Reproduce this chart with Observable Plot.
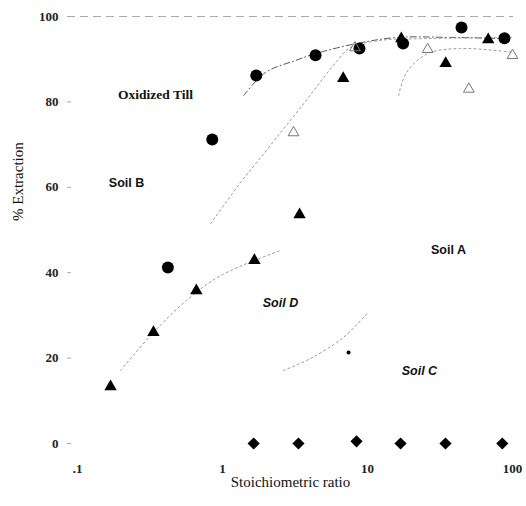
<!DOCTYPE html>
<html><head><meta charset="utf-8">
<script src="https://cdn.jsdelivr.net/npm/d3@7"></script>
<script src="https://cdn.jsdelivr.net/npm/@observablehq/plot@0.6"></script>
<style>body{margin:0;background:#fff}</style>
</head><body><div id="chart"></div>
<script>
// Axis ticks
const xTicks = [0.1, 1, 10, 100];
const xTickLabels = [".1", "1", "10", "100"];
const yTicks = [0, 20, 40, 60, 80, 100];

// Filled circles
const circleX = [0.42, 0.85, 1.71, 4.38, 8.8, 17.6, 44.5, 88];
const circleY = [41.2, 71.2, 86.2, 90.9, 92.5, 93.7, 97.4, 94.9];

// Filled triangles
const triX = [0.169, 0.334, 0.66, 1.66, 3.4, 6.8, 17.1, 34.6, 68];
const triY = [13.3, 26.0, 35.8, 42.9, 53.6, 85.5, 94.8, 89.0, 94.6];

// Open triangles
const openTriX = [3.09, 8.2, 26, 50, 100];
const openTriY = [72.8, 92.7, 92.3, 83.0, 90.9];

// Diamonds
const diamondX = [1.64, 3.34, 8.4, 16.9, 34.5, 85];
const diamondY = [0, 0, 0.5, 0, 0, 0];

// Small point (Soil C)
const smallX = [7.4];
const smallY = [21.3];

// Fitted curves
const tillCurveX = [1.40, 1.98, 3.19, 4.38, 8.5, 16.1, 37.2, 96.7];
const tillCurveY = [81.5, 86.9, 89.7, 91.3, 93.7, 95.1, 95.1, 94.8];
const soilBCurveX = [0.83, 1.33, 1.77, 2.51, 3.34, 4.52, 6.2, 7.6, 12.3, 23.2, 99.4];
const soilBCurveY = [51.5, 61.1, 66.3, 72.8, 78.0, 83.8, 89.7, 92.7, 94.4, 94.8, 95.1];
const soilACurveX = [16.4, 18.6, 26, 43.7, 101];
const soilACurveY = [81.5, 86.9, 91.3, 92.5, 91.6];
const soilCCurveX = [2.63, 4.04, 6.8, 10.1];
const soilCCurveY = [17.1, 19.9, 24.8, 30.7];
const soilDCurveX = [0.198, 0.334, 0.565, 0.969, 2.51];
const soilDCurveY = [17.1, 26.0, 33.5, 39.3, 45.2];

// Curve labels
const labelText = ["Oxidized Till", "Soil B", "Soil A", "Soil D", "Soil C"];
const labelX = [0.345, 0.218, 36.2, 2.51, 22.8];
const labelY = [81.7, 60.9, 45.4, 32.8, 16.9];
const labelFont = ["Liberation Serif", "Liberation Sans", "Liberation Sans", "Liberation Sans", "Liberation Sans"];
const labelStyle = ["normal", "normal", "normal", "italic", "italic"];

const zip = (xs, ys) => xs.map((x, i) => ({x, y: ys[i]}));
const xLabelMap = new Map(xTicks.map((t, i) => [t, xTickLabels[i]]));
const labels = labelText.map((t, i) => ({t, x: labelX[i], y: labelY[i], f: labelFont[i], s: labelStyle[i]}));
const labelMarks = ["Liberation Serif", "Liberation Sans"].flatMap(f => ["normal", "italic"].map(s => {
  const subset = labels.filter(d => d.f === f && d.s === s);
  return Plot.text(subset, {x: "x", y: "y", text: "t", fontFamily: f, fontStyle: s,
    fontSize: f === "Liberation Serif" ? 13.5 : 12.5, fontWeight: "bold", fill: "#111"});
}));

const curveStyle = {x: "x", y: "y", curve: "catmull-rom", stroke: "#999", strokeWidth: 1, strokeDasharray: "2,3"};

const chart = Plot.plot({
  width: 526, height: 506,
  marginLeft: 67, marginRight: 13, marginTop: 10, marginBottom: 51,
  style: {background: "#fff", fontFamily: "Liberation Serif", color: "#111"},
  x: {type: "log", domain: [0.1, 100], range: [77, 512]},
  y: {domain: [0, 100], range: [443, 16]},
  marks: [
    Plot.ruleY([100], {stroke: "#aaa", strokeDasharray: "8,5"}),
    Plot.axisX(xTicks, {tickSize: 0, tickPadding: 8, label: null, tickFormat: d => xLabelMap.get(d), fontSize: 13, fontWeight: "bold", fill: "#222"}),
    Plot.axisY(yTicks, {tickSize: 0, tickPadding: 9, label: null, fontSize: 13, fontWeight: "bold", fill: "#222"}),
    Plot.axisY(yTicks, {tickSize: -4, tickFormat: () => "", label: null, stroke: "#aaa"}),
    Plot.line(zip(tillCurveX, tillCurveY), {...curveStyle, stroke: "#555", strokeDasharray: "6,3,1,3"}),
    Plot.line(zip(soilBCurveX, soilBCurveY), curveStyle),
    Plot.line(zip(soilACurveX, soilACurveY), curveStyle),
    Plot.line(zip(soilCCurveX, soilCCurveY), curveStyle),
    Plot.line(zip(soilDCurveX, soilDCurveY), curveStyle),
    Plot.dot(zip(circleX, circleY), {x: "x", y: "y", r: 6, fill: "#000", symbol: "circle"}),
    Plot.dot(zip(triX, triY), {x: "x", y: "y", r: 4.6, fill: "#000", symbol: "triangle"}),
    Plot.dot(zip(openTriX, openTriY), {x: "x", y: "y", r: 4, fill: "none", stroke: "#777", strokeWidth: 1, symbol: "triangle"}),
    Plot.dot(zip(diamondX, diamondY), {x: "x", y: "y", r: 5.5, fill: "#000", symbol: "diamond2"}),
    Plot.dot(zip(smallX, smallY), {x: "x", y: "y", r: 2, fill: "#000"}),
    ...labelMarks,
    Plot.text(["% Extraction"], {frameAnchor: "left", rotate: -90, dx: -49, dy: -12, fontSize: 15, fontFamily: "Liberation Serif", fill: "#111"}),
    Plot.text(["Stoichiometric ratio"], {frameAnchor: "bottom", dy: 31, fontSize: 15, fontFamily: "Liberation Serif", fill: "#111"})
  ]
});
document.getElementById("chart").appendChild(chart);
</script>
</body></html>
